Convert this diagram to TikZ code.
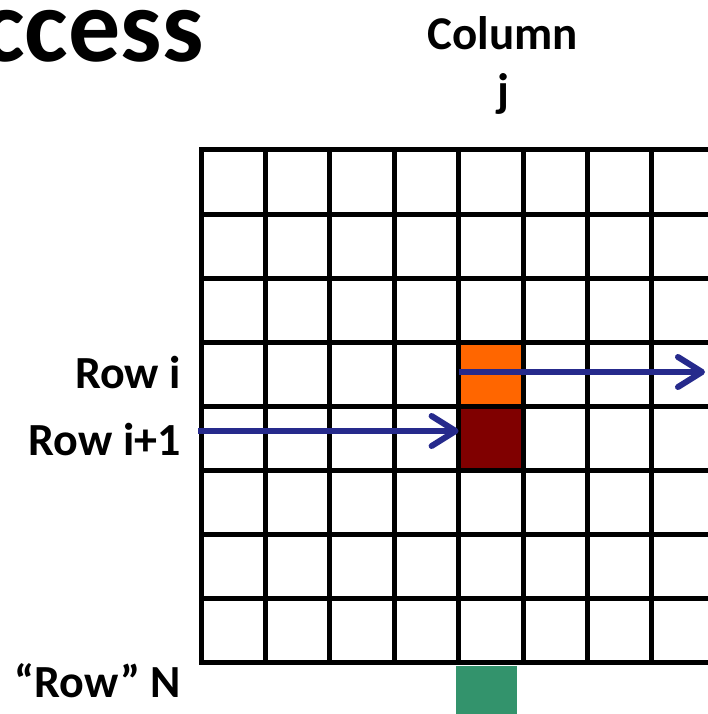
\documentclass[tikz,border=0pt]{standalone}
\usepackage{fontspec}
\setmainfont{Carlito}
\usetikzlibrary{arrows.meta,positioning}
\definecolor{navy}{HTML}{262A8C}
\definecolor{orange}{HTML}{FF6600}
\definecolor{darkred}{HTML}{800000}
\definecolor{green}{HTML}{33936C}
\tikzset{
  title/.style={font=\bfseries\fontsize{104}{110}\selectfont,anchor=base east,inner sep=0pt},
  rowlabel/.style={font=\bfseries\fontsize{46}{50}\selectfont,anchor=east,inner sep=0pt},
  collabel/.style={font=\bfseries\fontsize{47}{50}\selectfont,inner sep=0pt},
  cell/.style={minimum width=64.4pt,minimum height=64pt,inner sep=0pt,outer sep=0pt},
  gridline/.style={line width=5pt,line cap=rect},
  arr/.style={-{Straight Barb[length=24pt,width=30pt,round]},draw=navy,line width=6pt}
}
\begin{document}
\begin{tikzpicture}[x=1pt,y=-1pt]
\useasboundingbox (0,0) rectangle (707,714);
\node[title] (ttl) at (204,62) {Access};
\node[collabel] (col) at (503,33) {Column};
\node[collabel] (colj) at (503,94) {j};
% highlighted cells
\node[cell,fill=orange] (rowi) at (490.8,375) {};
\node[cell,fill=darkred] (rowinext) at (490.8,439) {};
\node[fill=green,minimum width=61pt,minimum height=60pt,inner sep=0pt,anchor=north] (rown) at (486.5,666) {};
% grid
\foreach \c in {0,...,7}
  \draw[gridline] ({201+64.4*\c},150) -- ({201+64.4*\c},662);
\foreach \r in {0,...,8}
  \draw[gridline] (201,{150+64*\r}) -- (720,{150+64*\r});
\node[rowlabel] (lbli) at (181,373) {Row i};
\node[rowlabel] (lblinext) at (181,440) {Row i+1};
\node[rowlabel] (lbln) at (181,681) {“Row” N};
% accesses
\coordinate (instart) at (198,431);
\coordinate (outend) at (705,372);
\draw[arr] (instart) -- (instart -| rowinext.west);
\draw[arr] (rowi.west |- outend) -- (outend);
\end{tikzpicture}
\end{document}
